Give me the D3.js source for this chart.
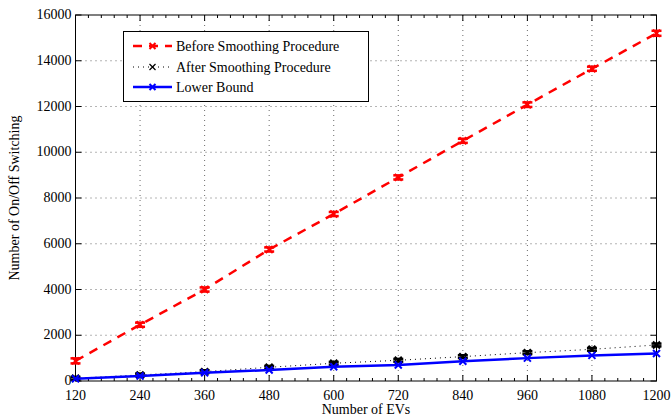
<!DOCTYPE html>
<html><head><meta charset="utf-8">
<script src="https://cdn.jsdelivr.net/npm/d3@7/dist/d3.min.js"></script>
<style>body{margin:0;background:#fff;} svg{display:block;font-family:"Liberation Serif","Times New Roman",serif;}</style>
</head><body>
<svg id="c" width="672" height="420"></svg>
<script>
const evs = [120,240,360,480,600,720,840,960,1080,1200];
const before = [880,2460,4000,5750,7300,8900,10500,12080,13650,15200];
const beforeErr = [110,90,90,90,90,90,90,100,90,110];
const after = [120,265,410,600,775,905,1065,1240,1385,1575];
const afterErr = [60,60,60,60,60,60,60,60,60,60];
const lower = [100,220,360,480,620,700,860,1000,1120,1200];
const xTicks = [120,240,360,480,600,720,840,960,1080,1200];
const yTicks = [0,2000,4000,6000,8000,10000,12000,14000,16000];
const legendLabels = ["Before Smoothing Procedure","After Smoothing Procedure","Lower Bound"];

const svg = d3.select("#c");
const L=75.5, R=656.5, T=15, B=381;
const x = d3.scaleLinear().domain([120,1200]).range([L,R]);
const y = d3.scaleLinear().domain([0,16000]).range([B,T]);

// grid
const g = svg.append("g");
g.selectAll(".gx").data(xTicks.slice(1,-1)).enter().append("line")
  .attr("x1",d=>x(d)).attr("x2",d=>x(d)).attr("y1",T).attr("y2",B)
  .attr("stroke","#444").attr("stroke-width",0.8).attr("stroke-dasharray","1,4");
g.selectAll(".gy").data(yTicks.slice(1,-1)).enter().append("line")
  .attr("y1",d=>y(d)).attr("y2",d=>y(d)).attr("x1",L).attr("x2",R)
  .attr("stroke","#444").attr("stroke-width",0.8).attr("stroke-dasharray","1,4");

// axes box
svg.append("rect").attr("x",L).attr("y",T).attr("width",R-L).attr("height",B-T)
  .attr("fill","none").attr("stroke","#000").attr("stroke-width",1);

// ticks inward
const minor = d3.range(120,1201,24).filter(v=>xTicks.indexOf(v)<0);
xTicks.forEach(v=>{
  svg.append("line").attr("x1",x(v)).attr("x2",x(v)).attr("y1",B).attr("y2",B-6).attr("stroke","#000");
  svg.append("line").attr("x1",x(v)).attr("x2",x(v)).attr("y1",T).attr("y2",T+6).attr("stroke","#000");
});
minor.forEach(v=>{
  svg.append("line").attr("x1",x(v)).attr("x2",x(v)).attr("y1",B).attr("y2",B-3).attr("stroke","#000");
  svg.append("line").attr("x1",x(v)).attr("x2",x(v)).attr("y1",T).attr("y2",T+3).attr("stroke","#000");
});
yTicks.forEach(v=>{
  svg.append("line").attr("x1",L).attr("x2",L+6).attr("y1",y(v)).attr("y2",y(v)).attr("stroke","#000");
  svg.append("line").attr("x1",R).attr("x2",R-6).attr("y1",y(v)).attr("y2",y(v)).attr("stroke","#000");
});

// tick labels
svg.selectAll(".xl").data(xTicks).enter().append("text")
  .attr("x",d=>x(d)).attr("y",B+19).attr("text-anchor","middle")
  .attr("font-size",14).text(d=>d);
svg.selectAll(".yl").data(yTicks).enter().append("text")
  .attr("x",L-4).attr("y",d=>y(d)+4).attr("text-anchor","end")
  .attr("font-size",14).text(d=>d);

svg.append("text").attr("x",366).attr("y",414).attr("text-anchor","middle").attr("font-size",14).text("Number of EVs");
svg.append("text").attr("transform",`translate(19,${(T+B)/2}) rotate(-90)`).attr("text-anchor","middle").attr("font-size",14).text("Number of On/Off Switching");

const line = d3.line().x((d,i)=>x(evs[i])).y(d=>y(d));

function errBars(vals, errs, color, w){
  vals.forEach((v,i)=>{
    const cx=x(evs[i]);
    const p = svg.append("g").attr("stroke",color).attr("stroke-width",w);
    p.append("line").attr("x1",cx).attr("x2",cx).attr("y1",y(v-errs[i])).attr("y2",y(v+errs[i]));
    p.append("line").attr("x1",cx-5).attr("x2",cx+5).attr("y1",y(v-errs[i])).attr("y2",y(v-errs[i]));
    p.append("line").attr("x1",cx-5).attr("x2",cx+5).attr("y1",y(v+errs[i])).attr("y2",y(v+errs[i]));
  });
}
function xMarks(vals,color,w,s){
  vals.forEach((v,i)=>{
    const cx=x(evs[i]), cy=y(v);
    svg.append("path").attr("d",`M${cx-s},${cy-s}L${cx+s},${cy+s}M${cx-s},${cy+s}L${cx+s},${cy-s}`)
      .attr("stroke",color).attr("stroke-width",w).attr("fill","none");
  });
}

// before
svg.append("path").datum(before).attr("d",line).attr("fill","none")
  .attr("stroke","#ff0000").attr("stroke-width",2.5).attr("stroke-dasharray","9,7");
errBars(before,beforeErr,"#ff0000",2.5);
xMarks(before,"#ff0000",2,3.5);

// after
svg.append("path").datum(after).attr("d",line).attr("fill","none")
  .attr("stroke","#000").attr("stroke-width",1).attr("stroke-dasharray","1,4");
errBars(after,afterErr,"#000",2.5);
xMarks(after,"#000",2,3.5);

// lower
svg.append("path").datum(lower).attr("d",line).attr("fill","none")
  .attr("stroke","#0000ff").attr("stroke-width",2.5);
xMarks(lower,"#0000ff",2,3.5);

// legend
const lg = svg.append("g");
lg.append("rect").attr("x",123.5).attr("y",31.5).attr("width",245).attr("height",70)
  .attr("fill","#fff").attr("stroke","#000").attr("stroke-width",1);
const rows=[46,67,87];
const ls=[{c:"#ff0000",w:2.5,da:"9,7"},{c:"#000",w:1,da:"1,4"},{c:"#0000ff",w:2.5,da:null}];
legendLabels.forEach((t,i)=>{
  const yy=rows[i];
  const l=lg.append("line").attr("x1",133).attr("x2",172).attr("y1",yy).attr("y2",yy)
    .attr("stroke",ls[i].c).attr("stroke-width",ls[i].w);
  if(ls[i].da) l.attr("stroke-dasharray",ls[i].da).attr("stroke-dashoffset",0);
  const cx=152.5,s=3;
  lg.append("path").attr("d",`M${cx-s},${yy-s}L${cx+s},${yy+s}M${cx-s},${yy+s}L${cx+s},${yy-s}`)
    .attr("stroke",ls[i].c).attr("stroke-width",i==1?1.2:2).attr("fill","none");
  lg.append("text").attr("x",176).attr("y",yy+5).attr("font-size",14).text(t);
});
</script>
</body></html>
